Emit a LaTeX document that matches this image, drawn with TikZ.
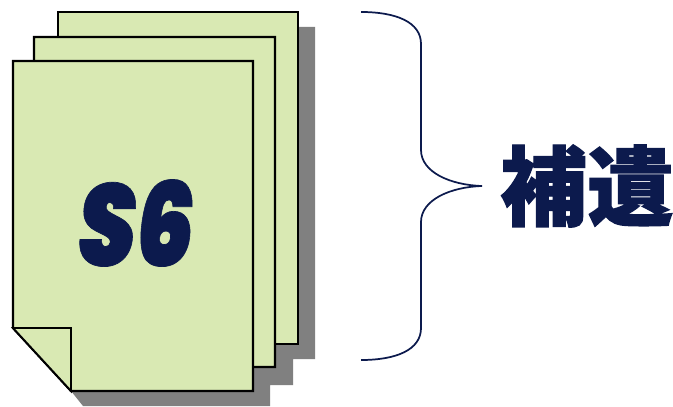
\documentclass[tikz,border=0pt]{standalone}
\usepackage{fontspec}
\newfontfamily\cjk[FakeBold=1.5]{Noto Sans CJK JP Black}
\newfontfamily\sixf[FakeBold=0.6,FakeSlant=0.16]{Poppins Black}
\definecolor{pagefill}{HTML}{D9E9B3}
\definecolor{shadowc}{HTML}{808080}
\definecolor{navy}{HTML}{0C1A4D}
\tikzset{
  pagebox/.style={draw=black,fill=pagefill,line width=1.7pt,line join=miter},
  bracel/.style={draw=navy,line width=1.3pt},
}
\begin{document}
\begin{tikzpicture}[x=0.75pt,y=-0.75pt]
\useasboundingbox (0,0) rectangle (673,406);
\begin{scope}
\clip (0,0) rectangle (673,406);
\fill[shadowc] (298,27) -- (315,27) -- (315,359) -- (293,359) -- (293,385) -- (270,385) -- (270,406) -- (83,406) -- (71,391) -- (253,300) -- cycle;
\end{scope}
\draw[pagebox] (58,12) rectangle (298,344);
\draw[pagebox] (34,37) -- (275,37) -- (275,367) -- (60,367) -- (34,340) -- cycle;
\draw[pagebox] (13,61) -- (253,61) -- (253,391) -- (71,391) -- (13,328) -- cycle;
\draw[pagebox,line width=1.4pt] (13,328) -- (71,328) -- (71,391) -- cycle;
\node[text=navy,inner sep=0pt,font=\sixf\fontsize{66}{66}\selectfont] (s6) at (132,223) {\scalebox{1.05}[1.32]{S6}};
\draw[bracel] (361,12) .. controls (396,12) and (421,22) .. (421,44)
  -- (421,150) .. controls (421,172) and (450,185) .. (482,186)
  .. controls (450,187) and (421,200) .. (421,222)
  -- (421,328) .. controls (421,350) and (396,360) .. (361,360);
\node[text=navy,inner sep=0pt,font=\cjk\fontsize{65}{65}\selectfont] (hoi) at (587,186) {補遺};
\end{tikzpicture}
\end{document}
